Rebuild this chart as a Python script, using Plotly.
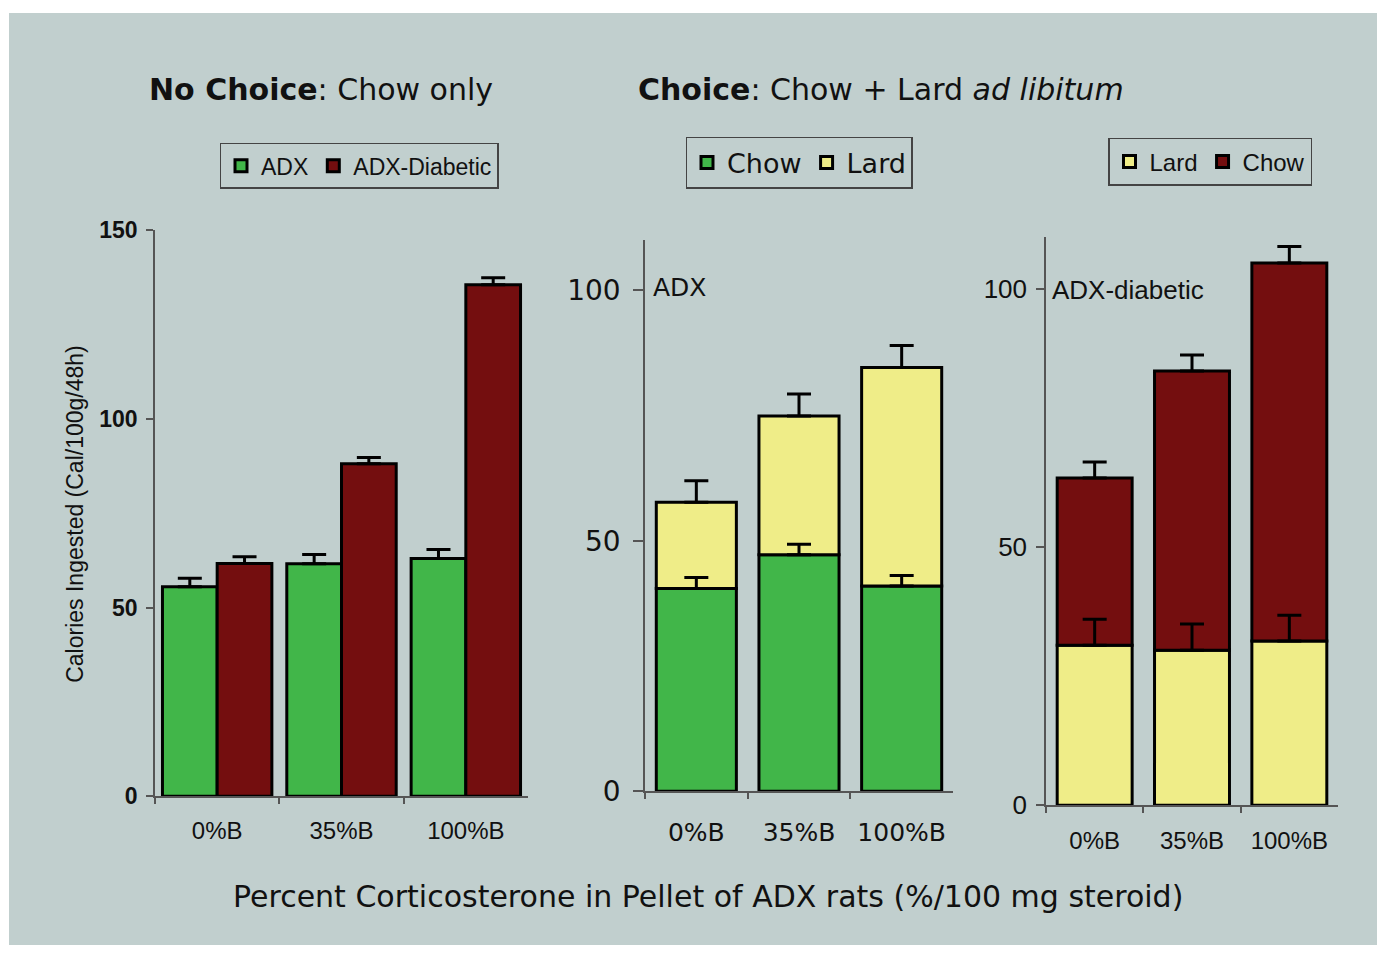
import plotly.graph_objects as go

categories = ["0%B", "35%B", "100%B"]

# Panel 1: No choice (chow only)
adx_chow_only = [55.5, 61.6, 63.0]
adx_chow_only_err = [2.3, 2.5, 2.4]
adxd_chow_only = [61.7, 88.1, 135.6]
adxd_chow_only_err = [1.8, 1.7, 1.8]

# Panel 2: Choice, ADX
adx_chow = [40.5, 47.2, 41.0]
adx_chow_err = [2.2, 2.1, 2.1]
adx_lard = [17.2, 27.7, 43.6]
adx_total_err = [4.3, 4.4, 4.4]

# Panel 3: Choice, ADX-diabetic
adxd_lard = [31.0, 30.0, 31.8]
adxd_lard_err = [5.0, 5.1, 5.0]
adxd_chow = [32.4, 54.1, 73.2]
adxd_total_err = [3.1, 3.1, 3.2]

GREEN = "#41B649"
RED = "#740E0F"
YELLOW = "#EFED88"
BG = "#C1CFCE"
AXC = "#555555"

W, H = 1377, 962
# vertical placement helpers (pixel position in the final picture -> paper fraction)
VS, VO = 0.9706, 13.3
def px(x): return x / W
def py(y): return max(0.0, min(1.0, 1 - ((y - VO) / VS) / H))

fig = go.Figure()
line = dict(color="black", width=3)
errstyle = dict(type="data", symmetric=False, color="black", thickness=3, width=12)

# Panel 1
fig.add_trace(go.Bar(x=categories, y=adx_chow_only, name="ADX", marker=dict(color=GREEN, line=line),
                     offset=-0.44, width=0.44, xaxis="x", yaxis="y", legend="legend",
                     error_y=dict(array=adx_chow_only_err, arrayminus=[0]*3, **errstyle)))
fig.add_trace(go.Bar(x=categories, y=adxd_chow_only, name="ADX-Diabetic", marker=dict(color=RED, line=line),
                     offset=0.0, width=0.44, xaxis="x", yaxis="y", legend="legend",
                     error_y=dict(array=adxd_chow_only_err, arrayminus=[0]*3, **errstyle)))

# Panel 2
fig.add_trace(go.Bar(x=categories, y=adx_chow, name="Chow", marker=dict(color=GREEN, line=line),
                     width=0.78, xaxis="x2", yaxis="y2", legend="legend2"))
fig.add_trace(go.Bar(x=categories, y=adx_lard, base=adx_chow, name="Lard", marker=dict(color=YELLOW, line=line),
                     width=0.78, xaxis="x2", yaxis="y2", legend="legend2"))
adx_total = [a + b for a, b in zip(adx_chow, adx_lard)]
fig.add_trace(go.Scatter(x=categories, y=adx_chow, mode="markers", marker=dict(opacity=0), showlegend=False,
                         xaxis="x2", yaxis="y2", hoverinfo="skip",
                         error_y=dict(array=adx_chow_err, arrayminus=[0]*3, **errstyle)))
fig.add_trace(go.Scatter(x=categories, y=adx_total, mode="markers", marker=dict(opacity=0), showlegend=False,
                         xaxis="x2", yaxis="y2", hoverinfo="skip",
                         error_y=dict(array=adx_total_err, arrayminus=[0]*3, **errstyle)))

# Panel 3
fig.add_trace(go.Bar(x=categories, y=adxd_lard, name="Lard", marker=dict(color=YELLOW, line=line),
                     width=0.77, xaxis="x3", yaxis="y3", legend="legend3"))
fig.add_trace(go.Bar(x=categories, y=adxd_chow, base=adxd_lard, name="Chow", marker=dict(color=RED, line=line),
                     width=0.77, xaxis="x3", yaxis="y3", legend="legend3"))
adxd_total = [a + b for a, b in zip(adxd_lard, adxd_chow)]
fig.add_trace(go.Scatter(x=categories, y=adxd_lard, mode="markers", marker=dict(opacity=0), showlegend=False,
                         xaxis="x3", yaxis="y3", hoverinfo="skip",
                         error_y=dict(array=adxd_lard_err, arrayminus=[0]*3, **errstyle)))
fig.add_trace(go.Scatter(x=categories, y=adxd_total, mode="markers", marker=dict(opacity=0), showlegend=False,
                         xaxis="x3", yaxis="y3", hoverinfo="skip",
                         error_y=dict(array=adxd_total_err, arrayminus=[0]*3, **errstyle)))

ARIAL = "Liberation Sans, Arial, sans-serif"
VERD = "DejaVu Sans, Verdana, sans-serif"

def xax(domain, anchor, font, standoff):
    return dict(domain=domain, anchor=anchor, showline=True, linecolor=AXC, linewidth=1.5,
                ticks="outside", tickson="boundaries", ticklen=6, tickcolor=AXC, tickwidth=1.5,
                tickfont=font, showgrid=False, zeroline=False, fixedrange=True,
                ticklabelstandoff=standoff)

def yax(domain, anchor, rng, tickvals, font, ticklen, standoff):
    return dict(domain=domain, anchor=anchor, range=rng, tickvals=tickvals, showline=True,
                linecolor=AXC, linewidth=1.5, ticks="outside", ticklen=ticklen, tickcolor=AXC,
                tickwidth=1.5, tickfont=font, showgrid=False, zeroline=False, fixedrange=True,
                ticklabelstandoff=standoff)

legbase = dict(orientation="h", xanchor="center", yanchor="middle", bgcolor="rgba(0,0,0,0)",
               bordercolor="#444", borderwidth=1.5, itemwidth=30, tracegroupgap=0)

fig.update_layout(
    width=W, height=H, margin=dict(l=0, r=0, t=0, b=0),
    paper_bgcolor="white", plot_bgcolor="rgba(0,0,0,0)",
    barmode="overlay",
    xaxis=xax([px(155), px(528)], "y", dict(family=ARIAL, size=24, color="#111"), 12),
    yaxis=yax([py(798), py(231)], "x", [0, 150], [0, 50, 100, 150],
              dict(family=ARIAL, size=23, color="#111", weight="bold"), 7, 4),
    xaxis2=xax([px(645), px(953)], "y2", dict(family=VERD, size=25, color="#111"), 18),
    yaxis2=yax([py(793), py(241)], "x2", [0, 110], [0, 50, 100], dict(family=VERD, size=28, color="#111"), 10, 7),
    xaxis3=xax([px(1046), px(1338)], "y3", dict(family=ARIAL, size=24, color="#111"), 13),
    yaxis3=yax([py(807), py(238)], "x3", [0, 110], [0, 50, 100], dict(family=ARIAL, size=26, color="#111"), 8, 4),
    legend=dict(x=px(359), y=py(166.5), font=dict(family=ARIAL, size=23, color="#111"), **legbase),
    legend2=dict(x=px(799), y=py(163.5), font=dict(family=VERD, size=27, color="#111"), **legbase),
    legend3=dict(x=px(1210), y=py(162.5), font=dict(family=ARIAL, size=24, color="#111"), **legbase),
    shapes=[dict(type="rect", xref="paper", yref="paper", x0=px(9), x1=1, y0=0, y1=py(11),
                 fillcolor=BG, line=dict(width=0), layer="below")],
    annotations=[
        dict(text="<b>No Choice</b>: Chow only", x=px(147), y=py(90), xref="paper", yref="paper",
             xanchor="left", yanchor="middle", showarrow=False, font=dict(family=VERD, size=30, color="#111")),
        dict(text="<b>Choice</b>: Chow + Lard <i>ad libitum</i>", x=px(636), y=py(90), xref="paper", yref="paper",
             xanchor="left", yanchor="middle", showarrow=False, font=dict(family=VERD, size=30, color="#111")),
        dict(text="Calories Ingested (Cal/100g/48h)", x=px(75), y=py(515), xref="paper", yref="paper",
             textangle=-90, xanchor="center", yanchor="middle", showarrow=False,
             font=dict(family=ARIAL, size=23, color="#111")),
        dict(text="ADX", x=px(651), y=py(288), xref="paper", yref="paper", xanchor="left", yanchor="middle",
             showarrow=False, font=dict(family=VERD, size=25, color="#111")),
        dict(text="ADX-diabetic", x=px(1050), y=py(291), xref="paper", yref="paper", xanchor="left",
             yanchor="middle", showarrow=False, font=dict(family=ARIAL, size=26, color="#111")),
        dict(text="Percent Corticosterone in Pellet of ADX rats (%/100 mg steroid)", x=px(708), y=py(898),
             xref="paper", yref="paper", xanchor="center", yanchor="middle", showarrow=False,
             font=dict(family=VERD, size=30, color="#111")),
    ],
)

post = ("document.documentElement.style.margin='0';document.body.style.margin='0';"
        "document.body.style.overflow='hidden';document.documentElement.style.overflow='hidden';"
        "var d=document.getElementsByClassName('plotly-graph-div')[0];"
        "d.style.position='fixed';d.style.top='0px';d.style.left='0px';")
fig.write_html("out.html", post_script=post, config={"displayModeBar": False})
